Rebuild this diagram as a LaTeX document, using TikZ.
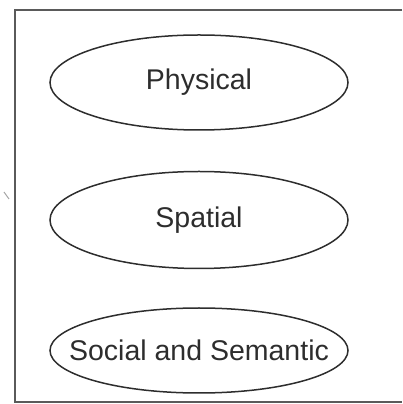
\documentclass[tikz,border=0pt]{standalone}
\usepackage{fontspec}
\setmainfont{Liberation Sans}
\definecolor{framegray}{RGB}{90,90,90}
\definecolor{inkgray}{RGB}{45,45,45}
\usepackage{tikz}
\usetikzlibrary{shapes,positioning}

\begin{document}
\begin{tikzpicture}[x=1pt, y=1pt, node distance=40pt,
    every node/.style={font=\fontsize{28.5}{30}\selectfont, text=inkgray},
    layer/.style={ellipse, draw=inkgray, line width=1.5pt, inner sep=0pt, minimum width=298pt}]
    \useasboundingbox (0,0) rectangle (402,404);

    % Frame (runs off the right edge)
    \draw[framegray, line width=2pt] (402,394) -- (14.5,394) -- (14.5,2) -- (402,2);
    \draw[gray!70, line width=1pt] (4,212) -- (9,205);

    % Layers
    \node[layer, minimum height=95pt] (phys) at (199,321.5) {Physical};
    \node[layer, minimum height=97pt, below=40pt of phys] (spat) {Spatial};
    \node[layer, minimum height=85pt, inner xsep=-30pt, below=38pt of spat] (soc) {Social and Semantic};
\end{tikzpicture}
\end{document}
